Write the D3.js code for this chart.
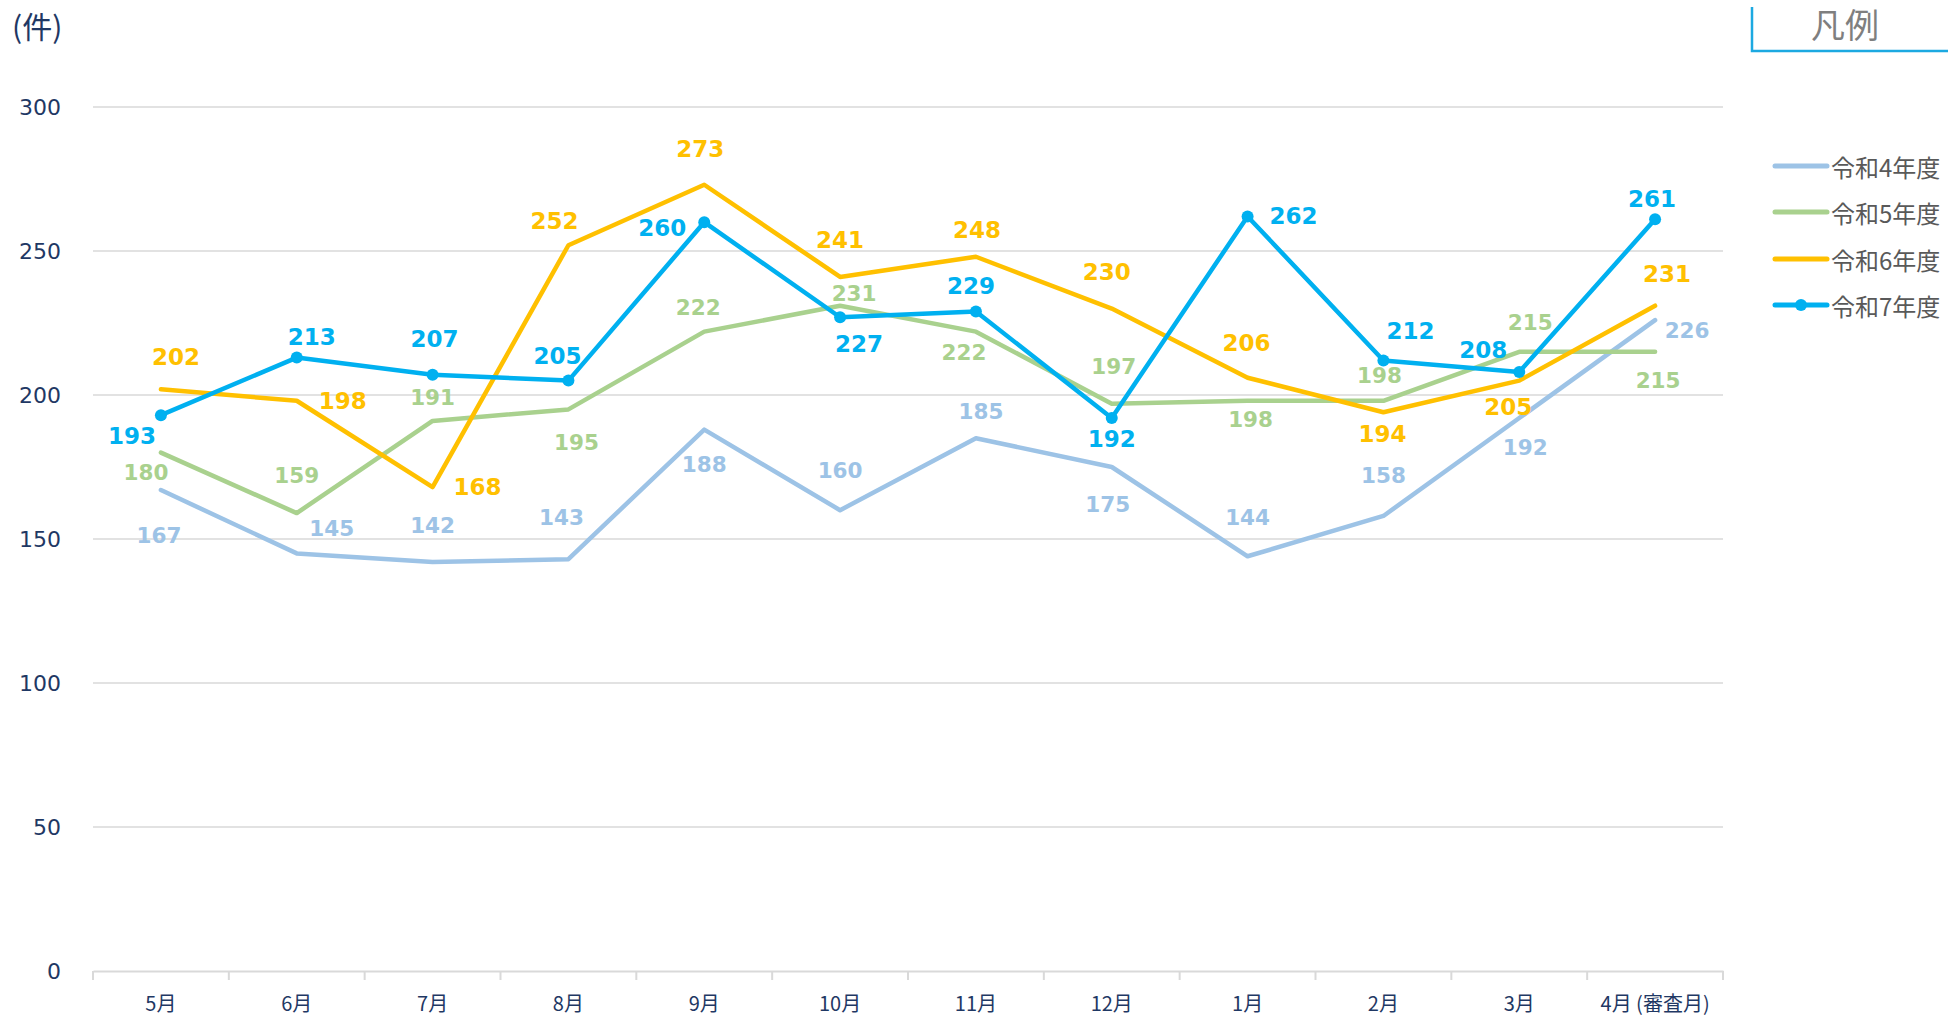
<!DOCTYPE html>
<html><head><meta charset="utf-8">
<script src="https://cdn.jsdelivr.net/npm/d3@7"></script>
<style>html,body{margin:0;padding:0;background:#fff;}svg{display:block;}</style>
</head><body>
<svg id="c" width="1948" height="1017"></svg>
<script>
const months = ["5月","6月","7月","8月","9月","10月","11月","12月","1月","2月","3月","4月 (審査月)"];
const seriesNames = ["令和4年度","令和5年度","令和6年度","令和7年度"];
const r4 = [167,145,142,143,188,160,185,175,144,158,192,226];
const r5 = [180,159,191,195,222,231,222,197,198,198,215,215];
const r6 = [202,198,168,252,273,241,248,230,206,194,205,231];
const r7 = [193,213,207,205,260,227,229,192,262,212,208,261];
const yTicks = [0,50,100,150,200,250,300];
const unitLabel = "(件)";
const legendTitle = "凡例";

// layout (label offsets in px relative to point)
const colors = ["#9dc3e6","#a9d18e","#ffc000","#00b0f0"];
const labelOff = [
  [[-2,45],[35,-25],[0,-37],[-7,-42],[0,35],[0,-40],[5,-27],[-4,37],[0,-39],[0,-40],[6,29],[32,10]],
  [[-15,20],[0,-38],[0,-23],[8,33],[-6,-24],[14,-12],[-12,21],[2,-37],[3,19],[-4,-25],[11,-29],[3,29]],
  [[15,-32],[46,0],[45,0],[-14,-24],[-4,-36],[0,-37],[1,-27],[-5,-37],[-1,-35],[-1,22],[-11,26],[12,-32]],
  [[-29,21],[15,-21],[2,-36],[-11,-25],[-42,6],[19,27],[-5,-25],[0,21],[46,0],[27,-29],[-36,-22],[-3,-20]]
];

const svg = d3.select("#c");
const pLeft = 93, pRight = 1723, pTop = 107, pBottom = 971;
const x = d3.scaleBand().domain(months).range([pLeft, pRight]);
const y = d3.scaleLinear().domain([0,300]).range([pBottom, pTop]);
const navy = "#1f3864";

// gridlines
svg.append("g").selectAll("line").data(yTicks.filter(d=>d>0)).join("line")
  .attr("x1", pLeft).attr("x2", pRight).attr("y1", d=>y(d)).attr("y2", d=>y(d))
  .attr("stroke","#d9d9d9").attr("stroke-width",1.5);

// y labels
svg.append("g").selectAll("text").data(yTicks).join("text")
  .attr("x", 61).attr("y", d=>y(d)).attr("text-anchor","end").attr("dominant-baseline","central")
  .attr("font-family","DejaVu Sans, Verdana, sans-serif").attr("font-size",22).attr("fill",navy)
  .text(d=>d);

// x axis
const xAxis = svg.append("g").attr("transform",`translate(0,${pBottom})`)
  .call(d3.axisBottom(x).tickSize(0).tickSizeOuter(0));
xAxis.select(".domain").attr("stroke","#d9d9d9").attr("stroke-width",2);
xAxis.selectAll(".tick text").attr("font-family","Noto Sans CJK JP, sans-serif").attr("font-size",20)
  .attr("fill",navy).attr("dy",0).attr("y",31).attr("dominant-baseline","central");
// boundary ticks
const bounds = months.map(m=>x(m)).concat([pRight]);
svg.append("g").selectAll("line").data(bounds).join("line")
  .attr("x1",d=>d).attr("x2",d=>d).attr("y1",pBottom).attr("y2",pBottom+9)
  .attr("stroke","#d9d9d9").attr("stroke-width",2);

// unit label
svg.append("text").attr("x",12).attr("y",25).attr("dominant-baseline","central")
  .attr("font-family","Noto Sans CJK JP, sans-serif").attr("font-size",30).attr("fill",navy).text(unitLabel);

const allSeries = [r4,r5,r6,r7];
const cx = m => x(m) + x.bandwidth()/2;
const line = d3.line().x((d,i)=>cx(months[i])).y(d=>y(d));

allSeries.forEach((s,k)=>{
  svg.append("path").datum(s).attr("d",line).attr("fill","none")
    .attr("stroke",colors[k]).attr("stroke-width",4.5).attr("stroke-linejoin","round").attr("stroke-linecap","round");
});
// markers for R7
svg.append("g").selectAll("circle").data(r7).join("circle")
  .attr("cx",(d,i)=>cx(months[i])).attr("cy",d=>y(d)).attr("r",6).attr("fill",colors[3]);

// labels
allSeries.forEach((s,k)=>{
  svg.append("g").selectAll("text").data(s).join("text")
    .attr("x",(d,i)=>cx(months[i])+labelOff[k][i][0])
    .attr("y",(d,i)=>y(d)+labelOff[k][i][1])
    .attr("text-anchor","middle").attr("dominant-baseline","central")
    .attr("font-family","DejaVu Sans, Verdana, sans-serif").attr("font-weight","bold")
    .attr("font-size", k>=2 ? 23 : 21.5).attr("fill",colors[k]).text(d=>d);
});

// legend
const lg = svg.append("g");
lg.append("path").attr("d","M1752,7 V51 H1948").attr("fill","none").attr("stroke","#1ca9e1").attr("stroke-width",2.5);
lg.append("text").attr("x",1845).attr("y",23).attr("text-anchor","middle").attr("dominant-baseline","central")
  .attr("font-family","Noto Sans CJK JP, sans-serif").attr("font-size",34).attr("fill","#7f7f7f").text(legendTitle);
const ly = [166,212,259,305];
seriesNames.forEach((n,k)=>{
  lg.append("line").attr("x1",1775).attr("x2",1827).attr("y1",ly[k]).attr("y2",ly[k])
    .attr("stroke",colors[k]).attr("stroke-width",5).attr("stroke-linecap","round");
  if(k===3) lg.append("circle").attr("cx",1801).attr("cy",ly[k]).attr("r",6).attr("fill",colors[k]);
  lg.append("text").attr("x",1831).attr("y",ly[k]).attr("dominant-baseline","central")
    .attr("font-family","Noto Sans CJK JP, sans-serif").attr("font-size",24).attr("fill","#595959").text(n);
});
</script>
</body></html>
